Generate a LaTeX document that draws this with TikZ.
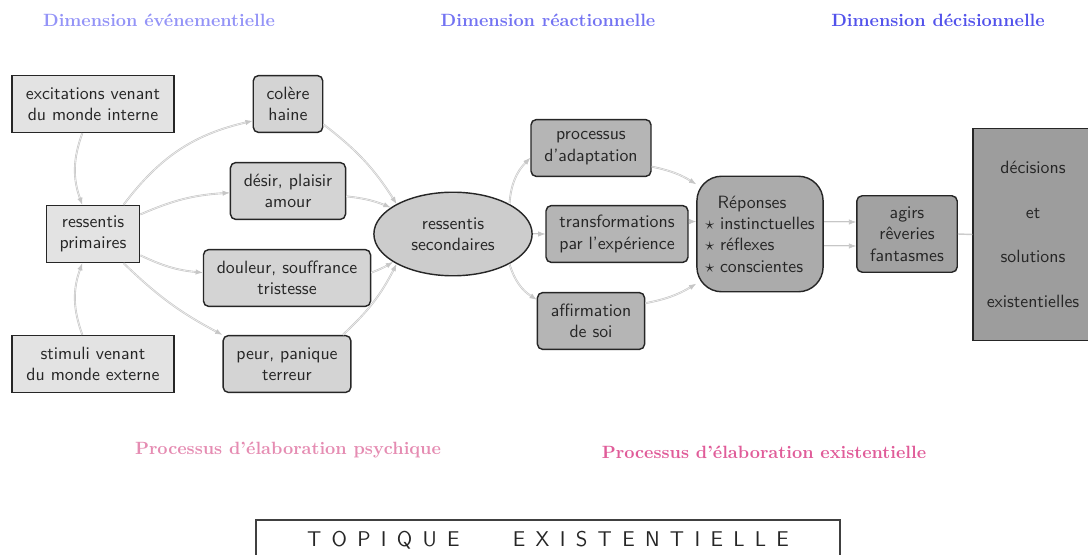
\documentclass[tikz,border=0pt]{standalone}
\usepackage{amsmath,amssymb}
\usepackage{xcolor}
\usepackage{tikz}
\usetikzlibrary{shapes, arrows.meta}

\definecolor{dimevent}{rgb}{0.58,0.58,0.97}
\definecolor{dimreact}{rgb}{0.45,0.45,0.95}
\definecolor{dimdecis}{rgb}{0.32,0.32,0.92}
\definecolor{procpsy}{rgb}{0.90,0.55,0.70}
\definecolor{procexi}{rgb}{0.88,0.36,0.60}

\begin{document}
\begin{tikzpicture}[
    x=0.5625pt, y=0.5625pt,
    font=\sffamily,
    text=black!85,
    dimtitle/.style={font=\rmfamily\bfseries},
    proctitle/.style={font=\rmfamily\bfseries},
    source/.style={
        draw=black!85,
        line width=0.8pt,
        align=center,
        inner xsep=7.5pt,
        minimum height=32pt,
        fill=gray!22
    },
    affect/.style={
        source,
        rounded corners=3pt,
        fill=gray!34
    },
    feeling/.style={
        draw=black!85,
        line width=0.8pt,
        ellipse,
        align=center,
        inner sep=0pt,
        minimum width=89pt,
        minimum height=47pt,
        fill=gray!40
    },
    react/.style={
        source,
        rounded corners=3pt,
        fill=gray!58
    },
    answer/.style={
        draw=black!85,
        line width=0.8pt,
        rounded corners=14pt,
        align=left,
        minimum width=71pt,
        minimum height=65pt,
        fill=gray!66
    },
    act/.style={
        source,
        rounded corners=3pt,
        minimum height=43pt,
        fill=gray!73
    },
    decide/.style={
        draw=black!85,
        line width=0.8pt,
        align=center,
        minimum width=67.5pt,
        minimum height=119pt,
        fill=gray!77
    },
    line/.style={draw=gray!45, double=gray!12, double distance=0.35pt,
        line width=0.35pt, -{Latex[length=4pt, width=3pt]}}
]

\useasboundingbox (0,0) rectangle (1088,554);

\node[dimtitle, text=dimevent] (tevent) at (159,534) {Dimension événementielle};
\node[dimtitle, text=dimreact] (treact) at (548,534) {Dimension réactionnelle};
\node[dimtitle, text=dimdecis] (tdecis) at (938,534) {Dimension décisionnelle};

\node[source, minimum width=91pt] (interne) at (93,450)
{excitations venant\\du monde interne};
\node[source] (primaires) at (93,320)
{ressentis\\primaires};
\node[source, minimum width=91pt] (externe) at (93,190)
{stimuli venant\\du monde externe};

\node[affect] (colere) at (288,450) {colère\\haine};
\node[affect] (desir) at (288,363) {désir, plaisir\\amour};
\node[affect] (douleur) at (287,276) {douleur, souffrance\\tristesse};
\node[affect] (peur) at (287,190) {peur, panique\\terreur};

\node[feeling] (secondaires) at (453,320) {ressentis\\secondaires};

\node[react] (adaptation) at (591,406) {processus\\d'adaptation};
\node[react] (experience) at (617,320) {transformations\\par l'expérience};
\node[react] (affirmation) at (591,233) {affirmation\\de soi};

\node[answer] (reponses) at (760,320)
{\hspace{7pt}Réponses\\$\star$ instinctuelles\\$\star$ réflexes\\$\star$ conscientes};

\node[act] (agirs) at (907,320) {agirs\\rêveries\\fantasmes};

\node[decide] (decisions) at (1033,319.5)
{décisions\\[13pt]et\\[13pt]solutions\\[13pt]existentielles};

\node[proctitle, text=procpsy] (tpsy) at (288,104) {Processus d'élaboration psychique};
\node[proctitle, text=procexi] (texi) at (764,102) {Processus d'élaboration existentielle};

\node[draw=black!75, line width=0.6pt, minimum width=328.5pt, minimum height=22.5pt,
      font=\sffamily\large] (topique) at (548,14)
{\spaceskip=5.8pt T O P I Q U E\hspace{30pt}E X I S T E N T I E L L E};

\draw[line] ([xshift=-6pt]interne.south) to[bend right=20] ([xshift=-6pt]primaires.north);
\draw[line] ([xshift=-6pt]externe.north) to[bend left=20] ([xshift=-6pt]primaires.south);

\draw[line] ([xshift=-9.5pt]primaires.north east) to[bend left=20] ([yshift=-9.5pt]colere.west);
\draw[line] ([yshift=11pt]primaires.east) to[bend left=10] ([yshift=-1pt]desir.west);
\draw[line] ([yshift=-12pt]primaires.east) to[bend right=10] ([yshift=3pt]douleur.west);
\draw[line] ([xshift=-9.5pt]primaires.south east) to[bend right=8] (peur.north west);

\draw[line] ([yshift=-11.5pt]colere.east) to[bend left=10] (secondaires.north west);
\draw[line] ([yshift=-3pt]desir.east) to[bend left=8] (secondaires.157);
\draw[line] ([yshift=3pt]douleur.east) to[bend right=5] (secondaires.205);
\draw[line] ([xshift=-5pt]peur.north east) to[bend right=10] (secondaires.south west);

\draw[line] (secondaires.north east) to[bend left=20] ([yshift=-5.5pt]adaptation.west);
\draw[line] (secondaires.east) -- (experience.west);
\draw[line] (secondaires.south east) to[bend right=20] ([yshift=12pt]affirmation.west);

\draw[line] ([yshift=-10.5pt]adaptation.east) to[bend left=10] ([yshift=28pt]reponses.west);
\draw[line] ([yshift=7pt]experience.east) -- ([yshift=7pt]reponses.west);
\draw[line] ([yshift=10pt]affirmation.east) to[bend right=10] ([yshift=-28pt]reponses.west);

\draw[line] ([yshift=6.75pt]reponses.east) -- ([yshift=6.75pt]agirs.west);
\draw[line] ([yshift=-6.75pt]reponses.east) -- ([yshift=-6.75pt]agirs.west);

\draw[draw=gray!40, line width=0.8pt] (agirs.east) -- (decisions.west);

\end{tikzpicture}
\end{document}
